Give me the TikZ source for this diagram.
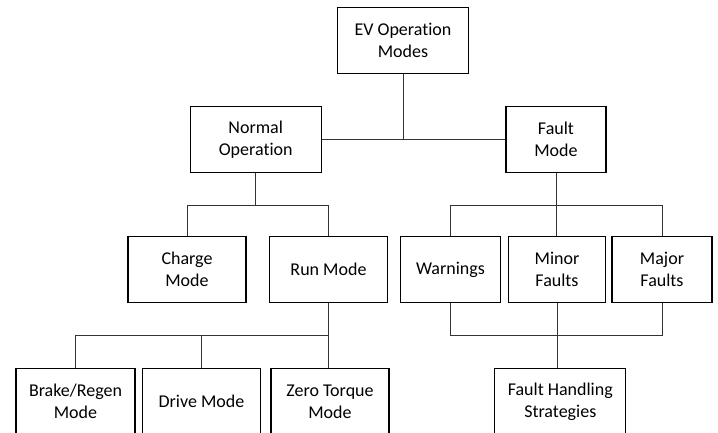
\documentclass[tikz,border=0pt]{standalone}
\usepackage{fontspec}
\setmainfont{Carlito}[Ligatures=NoCommon]
\usepackage{tikz}
\usetikzlibrary{positioning, calc}
\tikzset{
  modebox/.style={draw, line width=1.1pt, minimum height=66pt, inner sep=2pt, align=center, font=\fontsize{18}{22}\selectfont},
  widebox/.style={modebox, minimum width=131pt},
  midbox/.style={modebox, minimum width=118pt},
  narrowbox/.style={modebox, minimum width=100pt},
  link/.style={draw=black!80, line width=0.8pt},
}

\begin{document}
\begin{tikzpicture}[x=1pt, y=-1pt]
  \clip (0,0) rectangle (718,432);
  % tree of modes
  \node[widebox] (ev) at (403,40.7) {EV Operation\\Modes};
  \node[widebox] (normal) at (255.7,139.3) {Normal\\Operation};
  \node[narrowbox] (fault) at (556,139.3) {Fault\\Mode};
  \node[midbox] (charge) at (187,269.7) {Charge\\Mode};
  \node[midbox] (run) at (328.5,269.7) {Run Mode};
  \node[narrowbox] (warn) at (450.5,269.7) {Warnings};
  \node[narrowbox, minimum width=97pt] (minor) at (557,269.7) {Minor\\Faults};
  \node[narrowbox] (major) at (662,269.7) {Major\\Faults};
  \node[midbox, minimum width=119pt] (brake) at (75.5,401.3) {Brake/Regen\\Mode};
  \node[midbox] (drive) at (201.5,401.3) {Drive Mode};
  \node[midbox] (zero) at (330,401.3) {Zero Torque\\Mode};
  \node[widebox] (handle) at (560.3,401.3) {Fault Handling\\Strategies};
  % buses
  \coordinate (nbus) at ($(normal.south)+(0,32.5)$);
  \coordinate (fbus) at ($(fault.south)+(0,32.5)$);
  \coordinate (rbus) at ($(run.south)+(0,32.5)$);
  \coordinate (hbus) at ($(minor.south)+(0,32.5)$);
  \draw[link] (normal.east) -- (fault.west);
  \draw[link] (ev.south) -- (ev.south |- normal.east);
  \draw[link] (normal.south) -- (nbus);
  \draw[link] (charge.north) |- (nbus) -| (run.north);
  \draw[link] (warn.north) |- (fbus) -| (major.north);
  \draw[link] (fault.south) -- (fault.south |- minor.north);
  \draw[link] (run.south) -- (run.south |- zero.north);
  \draw[link] (brake.north) |- (rbus);
  \draw[link] (drive.north) -- (drive.north |- rbus);
  \draw[link] (warn.south) |- (hbus) -| (major.south);
  \draw[link] (minor.south) -- (minor.south |- handle.north);
\end{tikzpicture}
\end{document}
